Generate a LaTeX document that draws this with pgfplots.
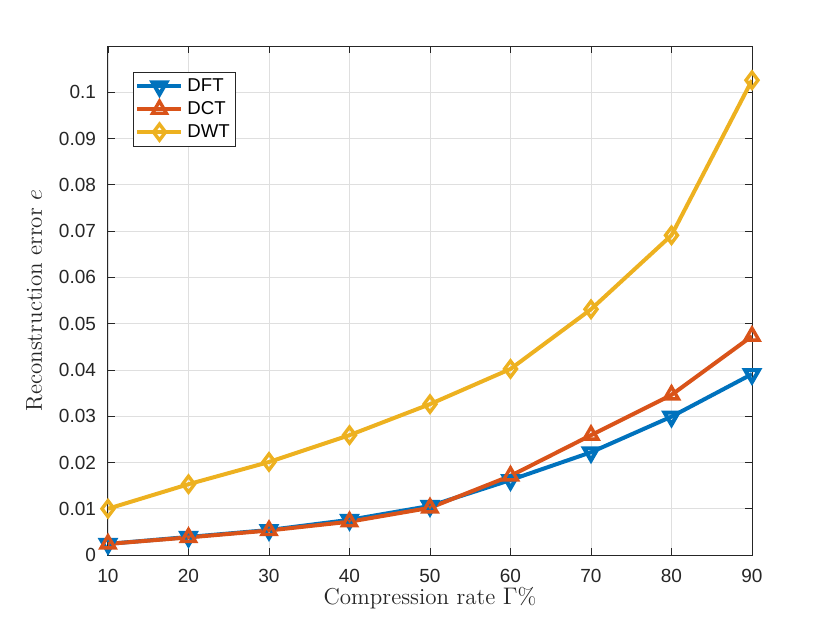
\documentclass[border=0pt]{standalone}
\usepackage{fontspec}
\usepackage{pgfplots}
\pgfplotsset{compat=1.18}
\newfontfamily\helv{Liberation Sans}
\definecolor{c1}{rgb}{0,0.447,0.741}
\definecolor{c2}{rgb}{0.85,0.325,0.098}
\definecolor{c3}{rgb}{0.929,0.694,0.125}
\definecolor{axc}{rgb}{0.15,0.15,0.15}
\begin{document}
\begin{tikzpicture}
\path[use as bounding box] (-54pt,-34pt) rectangle (361pt,277.5pt);
\begin{axis}[
  at={(0,0)}, anchor=south west,
  scale only axis, width=322pt, height=254.5pt,
  xmin=10, xmax=90, ymin=0, ymax=0.11,
  xtick={10,20,...,90},
  ytick={0,0.01,...,0.1},
  yticklabels={0,0.01,0.02,0.03,0.04,0.05,0.06,0.07,0.08,0.09,0.1},
  /pgf/number format/assume math mode=true,
  ticklabel style={font=\helv\fontsize{9.5}{11}\selectfont, text=axc},
  yticklabel style={xshift=-2.5pt},
  xticklabel style={yshift=-3.5pt},
  tick align=inside, major tick length=3.5pt,
  tick style={axc, line width=0.4pt},
  axis line style={axc, line width=0.5pt},
  grid=major, major grid style={gray!25, line width=0.4pt},
  xlabel={Compression rate $\Gamma\%$},
  ylabel={Reconstruction error $e$},
  label style={font=\fontsize{11.5}{13}\selectfont, text=axc},
  xlabel style={at={(axis description cs:0.5,-0.0982)}, anchor=base},
  ylabel style={at={(axis description cs:-0.1025,0.5)}, anchor=base},
  legend style={at={(rel axis cs:0.0388,0.949)}, anchor=north west,
    font=\helv\fontsize{9.3}{10}\selectfont, draw=axc, line width=0.5pt,
    inner sep=1pt, row sep=-0.5pt, cells={anchor=west}},
  legend image code/.code={\draw[mark repeat=2,mark phase=2] plot coordinates {(0pt,0pt) (11pt,0pt) (22pt,0pt)};},
  every axis plot/.append style={line width=2pt, mark size=4pt, mark options={solid, line width=1.7pt, fill=white, fill opacity=0}},
]
\addplot[c1, mark=triangle, mark options={rotate=180}] coordinates {
(10,0.0024) (20,0.0039) (30,0.0054) (40,0.0076) (50,0.0106) (60,0.0162) (70,0.0222) (80,0.0299) (90,0.0391)};
\addlegendentry{DFT}
\addplot[c2, mark=triangle] coordinates {
(10,0.0024) (20,0.0038) (30,0.0053) (40,0.0072) (50,0.0102) (60,0.0171) (70,0.0259) (80,0.0346) (90,0.0473)};
\addlegendentry{DCT}
\addplot[c3, mark=diamond] coordinates {
(10,0.0100) (20,0.0153) (30,0.0201) (40,0.0259) (50,0.0326) (60,0.0402) (70,0.0531) (80,0.0691) (90,0.1026)};
\addlegendentry{DWT}
\end{axis}
\end{tikzpicture}
\end{document}
